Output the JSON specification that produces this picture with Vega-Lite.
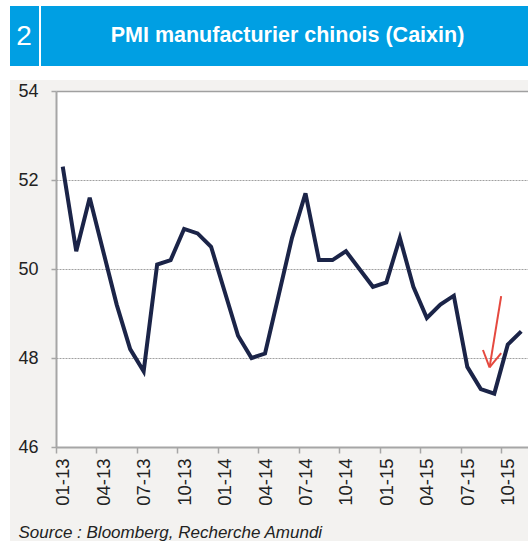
{
  "$schema": "https://vega.github.io/schema/vega-lite/v6.json",
  "background": "#F3F2F0",
  "padding": 0,
  "width": 472,
  "height": 356,
  "view": {"fill": "white", "stroke": null},
  "config": {"view": {"stroke": null}, "font": "Liberation Sans"},
  "datasets": {
    "header": [{"num": "2", "title": "PMI manufacturier chinois (Caixin)"}],
    "pmi": [
      {"month": "01-13", "pmi": 52.3}, {"month": "02-13", "pmi": 50.4}, {"month": "03-13", "pmi": 51.6},
      {"month": "04-13", "pmi": 50.4}, {"month": "05-13", "pmi": 49.2}, {"month": "06-13", "pmi": 48.2},
      {"month": "07-13", "pmi": 47.7}, {"month": "08-13", "pmi": 50.1}, {"month": "09-13", "pmi": 50.2},
      {"month": "10-13", "pmi": 50.9}, {"month": "11-13", "pmi": 50.8}, {"month": "12-13", "pmi": 50.5},
      {"month": "01-14", "pmi": 49.5}, {"month": "02-14", "pmi": 48.5}, {"month": "03-14", "pmi": 48.0},
      {"month": "04-14", "pmi": 48.1}, {"month": "05-14", "pmi": 49.4}, {"month": "06-14", "pmi": 50.7},
      {"month": "07-14", "pmi": 51.7}, {"month": "08-14", "pmi": 50.2}, {"month": "09-14", "pmi": 50.2},
      {"month": "10-14", "pmi": 50.4}, {"month": "11-14", "pmi": 50.0}, {"month": "12-14", "pmi": 49.6},
      {"month": "01-15", "pmi": 49.7}, {"month": "02-15", "pmi": 50.7}, {"month": "03-15", "pmi": 49.6},
      {"month": "04-15", "pmi": 48.9}, {"month": "05-15", "pmi": 49.2}, {"month": "06-15", "pmi": 49.4},
      {"month": "07-15", "pmi": 47.8}, {"month": "08-15", "pmi": 47.3}, {"month": "09-15", "pmi": 47.2},
      {"month": "10-15", "pmi": 48.3}, {"month": "11-15", "pmi": 48.6}
    ],
    "arrow": [
      {"x1": 32.51, "y1": 49.39, "x2": 31.65, "y2": 47.79},
      {"x1": 31.16, "y1": 48.18, "x2": 31.65, "y2": 47.79},
      {"x1": 32.51, "y1": 48.11, "x2": 31.65, "y2": 47.79}
    ]
  },
  "layer": [
    {
      "data": {"name": "header"},
      "mark": {"type": "rect", "color": "white"},
      "encoding": {"x": {"value": -56}, "x2": {"value": 472}, "y": {"value": -91}, "y2": {"value": -11}}
    },
    {
      "data": {"name": "header"},
      "mark": {"type": "rect", "color": "white"},
      "encoding": {"x": {"value": -56}, "x2": {"value": -46}, "y": {"value": -11}, "y2": {"value": 450}}
    },
    {
      "data": {"name": "header"},
      "mark": {"type": "rect", "color": "#009FE3"},
      "encoding": {"x": {"value": -46}, "x2": {"value": 472}, "y": {"value": -85}, "y2": {"value": -25}}
    },
    {
      "data": {"name": "header"},
      "mark": {"type": "rule", "color": "white", "strokeWidth": 2},
      "encoding": {"x": {"value": -16}, "y": {"value": -85}, "y2": {"value": -25}}
    },
    {
      "data": {"name": "header"},
      "mark": {"type": "text", "color": "white", "fontSize": 28, "align": "center", "baseline": "middle", "font": "Liberation Sans"},
      "encoding": {"text": {"field": "num"}, "x": {"value": -32}, "y": {"value": -54}}
    },
    {
      "data": {"name": "header"},
      "mark": {"type": "text", "color": "white", "fontSize": 21.5, "fontWeight": "bold", "align": "center", "baseline": "middle", "font": "Liberation Sans"},
      "encoding": {"text": {"field": "title"}, "x": {"value": 231.5}, "y": {"value": -55}}
    },
    {
      "data": {"name": "pmi"},
      "mark": {"type": "line", "color": "#1B2448", "strokeWidth": 4},
      "encoding": {
        "x": {
          "field": "month", "type": "ordinal", "sort": null,
          "scale": {"type": "point", "padding": 0.5},
          "axis": {
            "title": "Source : Bloomberg, Recherche Amundi",
            "titleFontStyle": "italic", "titleFontWeight": "normal", "titleFontSize": 17, "titleColor": "#222222", "titleFont": "Liberation Sans",
            "titleAnchor": "start", "titleAlign": "left", "titleBaseline": "alphabetic", "titleX": -38, "titleY": 90,
            "values": ["01-13", "04-13", "07-13", "10-13", "01-14", "04-14", "07-14", "10-14", "01-15", "04-15", "07-15", "10-15"],
            "labelAngle": -90, "labelFontSize": 18.5, "labelColor": "#222222", "labelFont": "Liberation Sans",
            "tickOffset": -6.743, "labelOffset": 6.743,
            "tickColor": "#A6A6A6", "tickSize": 6, "tickWidth": 1.5,
            "domainColor": "#A6A6A6", "domainWidth": 2,
            "labelPadding": 5, "grid": false
          }
        },
        "y": {
          "field": "pmi", "type": "quantitative",
          "scale": {"domain": [46, 54], "nice": false, "zero": false},
          "axis": {
            "title": null, "values": [46, 48, 50, 52, 54],
            "labelFontSize": 18, "labelColor": "#222222", "labelFont": "Liberation Sans",
            "labelPadding": 13, "tickSize": 5, "tickColor": "#A6A6A6", "tickWidth": 1.5,
            "domainColor": "#A6A6A6", "domainWidth": 2,
            "grid": true, "gridColor": "#A0A0A0",
            "gridDash": {"condition": {"test": "datum.value === 54", "value": []}, "value": [2, 1]},
            "gridWidth": {"condition": {"test": "datum.value === 54", "value": 1.5}, "value": 1}
          }
        }
      }
    },
    {
      "data": {"name": "arrow"},
      "mark": {"type": "rule", "color": "#E5493F", "strokeWidth": 2},
      "encoding": {
        "x": {"field": "x1", "type": "quantitative", "scale": {"domain": [-0.5, 34.5], "nice": false, "zero": false}, "axis": null},
        "x2": {"field": "x2"},
        "y": {"field": "y1", "type": "quantitative"},
        "y2": {"field": "y2"}
      }
    }
  ],
  "resolve": {"scale": {"x": "independent"}, "axis": {"x": "independent"}}
}
